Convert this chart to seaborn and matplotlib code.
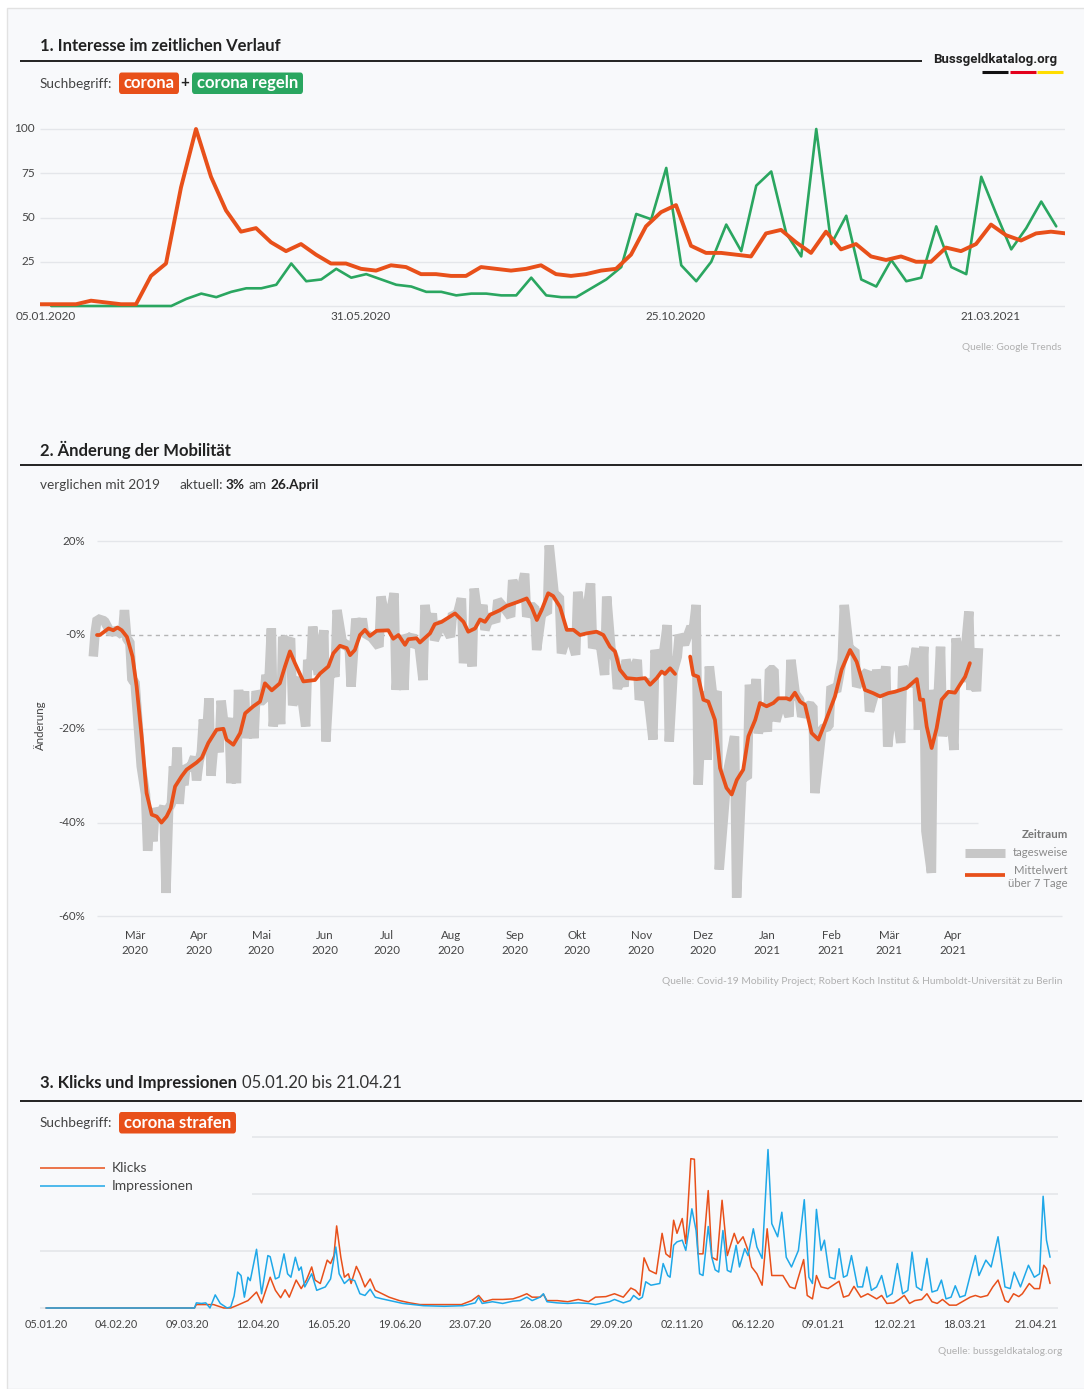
import numpy as np
import pandas as pd
import matplotlib
matplotlib.use("Agg")
import matplotlib.pyplot as plt
import matplotlib.transforms as mtrans
from matplotlib.lines import Line2D
from matplotlib.patches import FancyBboxPatch, Rectangle
import seaborn as sns

# ---------------- Daten ----------------
# 1. Google Trends, Wochenwerte (Woche 0 = 05.01.2020)
trend_corona = [1, 1, 1, 1, 3, 2, 1, 1,
                17, 24, 67, 100, 73, 54, 42, 44, 36, 31, 35, 29, 24, 24, 21, 20,
                23, 22, 18, 18, 17, 17, 22, 21, 20, 21, 23,
                18, 17, 18, 20, 21, 29, 45, 53, 57, 34, 30, 30, 29, 28, 41, 43,
                36, 30, 42, 32, 35, 28, 26, 28, 25, 25, 33, 31, 35, 46, 40, 37,
                41, 42, 41]          # Wochen -1 .. 68
trend_regeln = [0, 0, 0, 0, 0, 0, 0, 0, 0,
                4, 7, 5, 8, 10, 10, 12, 24, 14, 15, 21, 16, 18, 15, 12, 11,
                8, 8, 6, 7, 7, 6, 6, 16, 6, 5, 5, 10, 15, 22, 52, 49, 78, 23,
                14, 25, 46, 31, 68, 76, 41, 28, 100, 35, 51, 15, 11, 26, 14,
                16, 45, 22, 18, 73, 52, 32, 44, 59, 45]   # Wochen 0 .. 67
trend_ticks = ['05.01.2020', '31.05.2020', '25.10.2020', '21.03.2021']
trend_tick_weeks = [0, 21, 42, 63]
trend_yticks = [25, 50, 75, 100]

# 2. Mobilitaet, Tage ab 15.03.2020 (tagesweise + Mittelwert ueber 7 Tage)
mob_daily = [(-20.2, -4.6), (-19.3, 0.5), (-18.3, 3.5), (-14.8, 3), (-11.8, 0.5),
             (-8.9, 1), (-6.1, 0), (-5.1, 5.3), (-3.9, -1), (-2.5, -1.4),
             (-1.5, -9.6), (0, -10), (3, -28),
             (5.1, -34), (6.1, -46), (7.4, -39), (8.7, -44), (9.7, -37), (11.8, -39),
             (14, -36.5), (15, -55), (16.3, -37), (17.6, -36), (18.6, -28), (19.5, -31),
             (20.4, -24), (21.4, -36), (22.5, -30), (23.7, -32), (24.7, -28), (26.7, -28.5),
             (28.8, -26), (29.8, -31), (31, -27), (32.1, -25), (33.1, -18), (34.4, -23),
             (35.8, -13.5), (36.8, -30), (38.7, -20.5), (40.7, -25), (41.7, -14),
             (43.6, -21), (45.5, -17.7), (46.5, -31.6), (47.8, -23.5), (49.1, -31.6),
             (50.1, -11.7), (51.5, -19), (53, -12), (54, -22), (55.8, -16), (57.6, -22),
             (58.6, -12), (60.5, -14), (62.4, -14), (63.4, -8.5), (64.7, -11), (66, 1.4),
             (66.9, -19.5), (68.7, -11), (70.5, -19), (71.5, -0.4), (73.4, -2),
             (75.3, -0.7), (76.3, -15), (79.5, -9), (82.6, -19.5), (83.6, -5.3),
             (85, -7.4), (86, 1.8), (88.7, -8.5), (91.4, 1), (92.4, -22.7), (94.6, -6),
             (96.8, -8.9), (97.8, 5.3), (100.7, -2.5), (103.6, -1.8), (104.6, -11),
             (105.9, -2.8), (106.9, 3.5), (108.5, 0), (110, 3.5), (111, 0.4),
             (114.5, -0.5), (118.1, -2.5), (119.1, 8.2), (122.2, 1), (125.4, 8.9),
             (126.4, -11.7), (128.3, -1), (130.2, -11.7), (131.2, 0), (132.7, -1),
             (134.2, 0), (135.2, -2.5), (137.3, -1.5), (139.4, -9.6), (140.4, 6.4),
             (142.1, 0.5), (143.9, 4.6), (144.9, -1.1), (148.8, 2.8), (152.7, -0.4),
             (153.7, 4.6), (155.8, 4), (158, 7.8), (159, -6), (161.1, 0.7),
             (163.2, -6.7), (164.2, 9.9), (166.3, 3), (168.4, 6.4), (169.4, 1.1),
             (172, 4.3), (174.6, 2.8), (175.6, 7.4), (178.7, 5.8), (181.8, 3.9),
             (182.8, 11.7), (185.7, 7.1), (188.6, 13.1), (189.6, 3.9), (191.5, 6),
             (193.4, 6), (194.4, -3.2), (197, 5.3), (199.6, 4.6), (200.5, 19.1),
             (203, 8.3), (205.4, 8.2), (206.4, -3.9), (209.8, 1), (213.3, -4.2),
             (214.3, 9.2), (217.4, 0.3), (220.5, 11), (221.5, -2.8), (224.4, 0.7),
             (227.3, -8.5), (228.3, 8.2), (230.4, -3), (232.5, -5.3), (233.5, -11.5),
             (235.1, -8), (236.7, -11), (237.7, -5.3), (240.4, -9.3), (243.1, -5.3),
             (244.1, -13.8), (247.4, -9.3), (250.7, -22.3), (251.7, -3.2), (254.6, -8),
             (257.6, 2.1), (258.6, -22.7), (260.5, -7.8), (262.5, -4.6), (263.4, 0),
             (266, -2), (269.1, 1.8), (270.1, 0.7), (271.6, 6.4), (272.6, -31.9),
             (274.8, -12), (277, -26.6), (278, -6.7), (279.9, -14), (281.8, -12),
             (282.8, -50), (286.5, -30), (290.2, -21.6), (291.2, -56), (293.8, -30),
             (296.4, -30.5), (297.4, -10.6), (299, -16), (300.7, -9.4), (301.7, -21),
             (303.9, -14.5), (306.1, -20.6), (307.1, -7.4), (309.3, -7.4), (310.2, -18.4),
             (313.4, -13.5), (316.6, -17.4), (317.5, -5.3), (319.6, -12.5), (321.7, -13.8),
             (322.7, -17.4), (325.4, -15), (328.1, -15.2), (329.1, -33.7), (332.5, -20),
             (335.9, -19.5), (336.9, -11), (339.6, -12), (342.3, -5.3), (343.3, 6.4),
             (345.8, -3.5), (348.4, -3.2), (349.3, -11), (351.9, -9), (354.5, -7.8),
             (355.5, -16.3), (358, -12.4), (359, -7.4), (361.2, -13), (363.4, -6.7),
             (364.3, -23.8), (367.4, -12), (370.6, -23), (371.6, -6.7), (374.9, -11),
             (378.2, -2.8), (379.2, -20.2), (381.8, -2.5), (382.8, -41.8), (385.5, -50.7),
             (386.5, -11.7), (388.2, -18), (389.9, -2.5), (390.9, -21.6), (393.7, -12.1),
             (396.4, -24.5), (397.4, -0.7), (400.5, -10), (403.6, 5), (404.6, -11.7),
             (406, -8), (407.3, -12), (408.3, -2.8)]
mob_avg = [(-18.4, 0), (-17, 0), (-12.8, 1.4), (-10.5, 1), (-8.5, 1.6), (-6.4, 1),
           (-3.9, -0.4), (-1.2, -4.6), (0.8, -11), (3.3, -22), (5.6, -33.7),
           (8.1, -38.3), (10.5, -38.7), (12.8, -40), (15.3, -38.7), (17.3, -36.9),
           (19.4, -32.3), (22.6, -30.1), (25, -28.7), (29.8, -27.2), (32.3, -26.2),
           (35.5, -23), (39.5, -20.2), (42.8, -20), (44.3, -22.3), (47.6, -23.4),
           (50.9, -20.9), (53.3, -16.7), (57.3, -15.2), (60.5, -14.2), (62.9, -10.3),
           (66.2, -11.8), (70.1, -10.3), (72.6, -6.7), (75, -3.5), (77.4, -6),
           (81.5, -9.9), (87.1, -9.6), (89.6, -8.2), (93.6, -6.7), (96, -3.9),
           (99.2, -2.3), (102.5, -2.8), (104.1, -4.3), (106.4, -3.2), (108.9, 0),
           (111.3, 1.1), (113.7, -0.2), (117, 0.9), (122.6, 1), (125, -0.8),
           (127.5, 0), (130.7, -2.1), (132.3, -0.9), (136.3, -0.7), (137.9, -1.6),
           (142.8, 0.35), (145.1, 2.3), (148.4, 2.8), (154.9, 4.6), (159, 2.8),
           (161.3, 0.7), (164.6, 1.4), (167, 3.3), (169.4, 2.8), (171.8, 4.3),
           (176.7, 5.3), (179.9, 6.2), (185.6, 7.1), (189.6, 7.8), (192, 5.9),
           (194.5, 3.2), (196.8, 5.3), (200, 8.9), (202.4, 8.3), (205.7, 6),
           (209, 1.1), (212.2, 1.1), (215.4, 0), (218.6, 0.35), (223.4, 0.7),
           (226.7, 0), (229.9, -2.5), (232.3, -3.5), (234.7, -7.4), (238, -9.2),
           (242.8, -9.4), (246.9, -9.2), (249.3, -10.6), (252.5, -9.2), (254.9, -7.8),
           (256.5, -8.3), (259, -7.1), (261.4, -8.3), (265, None),
           (268.7, -4.6), (270.2, -8.5), (272.6, -8.9), (275.1, -13.8), (277.5, -14.2),
           (280.7, -18.1), (283.2, -28.4), (286.3, -32.6), (288.8, -34), (291.3, -30.9),
           (294.4, -28.7), (296.9, -21.6), (300.2, -18.1), (302.5, -14.5), (305.7, -15.2),
           (309, -14.5), (311.4, -13.5), (315.4, -13.5), (317, -13.8), (319.4, -12.3),
           (321.9, -14.2), (324.3, -14.9), (327.5, -20.9), (330.8, -22.3), (333.9, -18.8),
           (338.8, -13.1), (342, -7.4), (346.1, -3.2), (349.3, -5.7), (353.3, -11.7),
           (357.3, -12.4), (360.6, -13.1), (364.6, -12.4), (367.8, -12.1), (373.5, -11.3),
           (378.4, -9.4), (380, -13.8), (381.5, -13.8), (383.2, -19.5), (385.6, -24.1),
           (388, -19.9), (390.4, -13.8), (393.7, -12.1), (396.9, -12.3), (399.3, -10.6),
           (401.8, -8.9), (404.1, -6)]
mob_months = ['Mär\n2020', 'Apr\n2020', 'Mai\n2020', 'Jun\n2020', 'Jul\n2020',
              'Aug\n2020', 'Sep\n2020', 'Okt\n2020', 'Nov\n2020', 'Dez\n2020',
              'Jan\n2021', 'Feb\n2021', 'Mär\n2021', 'Apr\n2021']
mob_yticks = [20, 0, -20, -40, -60]
mob_ylabels = ['20%', '-0%', '-20%', '-40%', '-60%']

# 3. Klicks und Impressionen, Tage ab 05.01.2020
klicks = [(0, 0), (70.8, 0), (71.7, 0.06), (76.6, 0.06), (79.9, 0.06), (83.1, 0.02),
          (84.8, 0), (88.1, 0), (91.4, 0.05), (96.3, 0.13), (100.4, 0.28), (102.8, 0.09),
          (106.9, 0.54), (109.4, 0.31), (111.9, 0.18), (114.0, 0.32), (116.0, 0.19),
          (119.3, 0.49), (121.7, 0.34), (124.2, 0.49), (126.7, 0.72), (128.3, 0.49),
          (130.8, 0.43), (134.1, 0.84), (135.7, 0.78), (137.3, 0.92), (138.6, 1.44),
          (140.6, 0.89), (142.3, 0.54), (144.2, 0.6), (145.5, 0.43), (148.0, 0.73),
          (149.7, 0.6), (152.1, 0.37), (154.6, 0.51), (157.0, 0.31), (160.3, 0.25),
          (163.6, 0.19), (168.5, 0.13), (173.5, 0.09), (178.4, 0.06), (186.6, 0.06),
          (198.1, 0.06), (203.0, 0.13), (206.3, 0.22), (208.8, 0.11), (212.9, 0.15),
          (217.8, 0.15), (222.7, 0.16), (226.0, 0.2), (229.3, 0.25), (231.8, 0.19),
          (235.6, 0.19), (237.2, 0.24), (238.9, 0.13), (243.8, 0.13), (248.8, 0.11),
          (253.8, 0.15), (258.7, 0.11), (262.0, 0.19), (267.0, 0.2), (271.1, 0.25),
          (275.3, 0.19), (278.9, 0.35), (281.1, 0.31), (283.2, 0.22), (285.2, 0.88),
          (287.7, 0.66), (291.0, 0.6), (293.8, 1.31), (295.6, 0.95), (297.6, 0.89),
          (299.3, 1.54), (300.9, 1.31), (303.4, 1.57), (305.1, 1.13), (307.5, 2.62),
          (309.2, 2.61), (310.9, 0.95), (313.3, 0.95), (315.8, 2.06), (317.5, 0.89),
          (320.0, 0.84), (322.4, 1.89), (324.9, 0.92), (328.2, 1.31), (329.9, 1.13),
          (332.4, 1.25), (334.8, 1.01), (336.5, 0.72), (339.0, 0.6), (341.5, 0.4),
          (343.9, 1.39), (346.1, 0.57), (351.4, 0.57), (354.7, 0.37), (357.2, 0.34),
          (361.3, 0.85), (363.0, 0.22), (365.5, 0.16), (367.4, 0.57), (369.6, 0.37),
          (372.9, 0.34), (378.2, 0.47), (380.3, 0.19), (382.8, 0.22), (385.3, 0.38),
          (388.6, 0.19), (391.9, 0.25), (396.1, 0.16), (398.5, 0.22), (401.0, 0.08),
          (404.3, 0.09), (406.8, 0.15), (409.3, 0.22), (411.8, 0.08), (414.3, 0.13),
          (417.6, 0.15), (420.1, 0.25), (422.5, 0.11), (425.0, 0.08), (427.5, 0.15),
          (430.8, 0.05), (434.1, 0.05), (437.4, 0.12), (440.7, 0.19), (443.2, 0.22),
          (445.7, 0.19), (449.0, 0.22), (451.5, 0.37), (454.0, 0.49), (457.3, 0.13),
          (458.9, 0.1), (461.4, 0.25), (463.9, 0.2), (465.6, 0.25), (468.9, 0.43),
          (471.3, 0.34), (473.8, 0.34), (475.8, 0.75), (477.1, 0.69), (478.8, 0.43)]
impressionen = [(0, 0), (70.8, 0), (71.7, 0.09), (74.1, 0.08), (76.2, 0.09), (78.2, 0),
                (80.7, 0.23), (83.1, 0.08), (86.4, 0), (88.1, 0.02), (89.7, 0.21),
                (91.4, 0.63), (93.0, 0.57), (94.6, 0.19), (96.3, 0.54), (97.4, 0.48),
                (100.4, 1.03), (102.8, 0.25), (105.8, 0.92), (106.9, 0.9), (109.4, 0.51),
                (111.1, 0.54), (113.5, 0.95), (115.2, 0.6), (116.8, 0.54), (118.9, 0.89),
                (120.6, 0.66), (121.7, 0.72), (123.4, 0.37), (126.7, 0.6), (129.1, 0.31),
                (133.2, 0.37), (135.7, 0.51), (138.2, 1.07), (139.8, 0.6), (142.3, 0.43),
                (144.7, 0.51), (147.2, 0.48), (149.7, 0.25), (152.1, 0.22), (154.6, 0.33),
                (157.0, 0.19), (160.3, 0.16), (165.3, 0.12), (170.2, 0.08), (175.1, 0.06),
                (180.0, 0.04), (189.9, 0.03), (198.9, 0.04), (204.7, 0.09), (206.3, 0.19),
                (208.0, 0.08), (212.9, 0.11), (217.8, 0.08), (222.7, 0.12), (226.0, 0.13),
                (229.3, 0.19), (231.8, 0.13), (235.6, 0.19), (237.2, 0.25), (238.9, 0.11),
                (243.8, 0.09), (248.8, 0.08), (253.8, 0.09), (258.7, 0.08), (262.0, 0.06),
                (268.7, 0.11), (271.1, 0.15), (275.3, 0.09), (278.6, 0.13), (280.2, 0.22),
                (282.7, 0.15), (284.4, 0.19), (286.0, 0.46), (288.5, 0.4), (292.7, 0.43),
                (294.3, 0.78), (296.5, 0.57), (297.6, 0.54), (299.3, 1.1), (300.9, 1.16),
                (303.4, 1.19), (305.1, 1.01), (308.0, 1.74), (310.0, 1.36), (311.7, 0.6),
                (313.3, 0.57), (315.8, 1.43), (317.5, 0.89), (319.1, 0.67), (320.8, 0.63),
                (322.8, 1.36), (324.9, 0.66), (326.6, 0.63), (329.1, 1.1), (330.7, 0.72),
                (333.2, 1.04), (334.8, 0.92), (337.3, 1.39), (339.0, 1.07), (341.5, 0.87),
                (344.3, 2.78), (346.1, 1.48), (348.9, 1.25), (350.9, 1.68), (353.0, 0.89),
                (355.5, 0.72), (358.8, 1.01), (361.6, 1.9), (363.8, 0.54), (365.5, 0.43),
                (367.4, 1.73), (369.6, 1.01), (371.2, 1.19), (373.7, 0.54), (376.2, 0.51),
                (378.2, 1.04), (380.3, 0.54), (382.0, 0.57), (384.1, 0.92), (387.0, 0.37),
                (389.4, 0.37), (391.4, 0.72), (393.6, 0.31), (396.1, 0.37), (398.5, 0.57),
                (401.0, 0.19), (403.5, 0.25), (406.0, 0.78), (408.5, 0.25), (411.0, 0.31),
                (413.0, 0.98), (415.1, 0.37), (417.6, 0.31), (420.1, 0.87), (422.5, 0.28),
                (425.0, 0.31), (427.0, 0.49), (429.2, 0.16), (431.6, 0.19), (433.6, 0.39),
                (435.8, 0.19), (438.3, 0.22), (440.7, 0.57), (443.2, 0.92), (444.9, 0.57),
                (448.2, 0.84), (450.7, 0.72), (454.0, 1.25), (457.3, 0.37), (459.8, 0.34),
                (461.7, 0.63), (464.7, 0.37), (468.5, 0.75), (471.3, 0.54), (473.8, 0.6),
                (475.5, 1.96), (477.1, 1.19), (478.8, 0.89)]
klick_ticks = ['05.01.20', '04.02.20', '09.03.20', '12.04.20', '16.05.20', '19.06.20',
               '23.07.20', '26.08.20', '29.09.20', '02.11.20', '06.12.20', '09.01.21',
               '12.02.21', '18.03.21', '21.04.21']

# ---------------- Stil ----------------
sns.set_theme(style="white")
plt.rcParams['font.family'] = ['Lato', 'DejaVu Sans']

W, H = 1084, 1389
BG = '#f8f9fb'
ORANGE = '#e8501a'
GREEN = '#2aa660'
BLUE = '#1fa8e8'
DGRAY = '#c7c7c7'
GRID = '#e4e6ea'
DARK = '#222222'
TXT = '#444444'
SRC = '#b0b0b0'

fig = plt.figure(figsize=(W / 100, H / 100), dpi=100, facecolor='white')
fig.add_artist(Rectangle((7 / W, 0), 1, 1 - 8 / H, transform=fig.transFigure,
                         fc=BG, ec='#e2e2e2', lw=1, zorder=-10))


def fy(py):
    return 1 - py / H


def txt(px, py, s, size=8.5, color=TXT, weight='normal', ha='left', va='center', **kw):
    return fig.text(px / W, fy(py), s, fontsize=size, color=color, fontweight=weight,
                    ha=ha, va=va, **kw)


def rich(px, py, parts):
    r = fig.canvas.get_renderer()
    x = px
    for s, weight, size, color, gap in parts:
        t = txt(x, py, s, size, color, weight)
        x += t.get_window_extent(r).width + gap


def rule(x0, x1, py, lw=1.4, color=DARK):
    fig.add_artist(Line2D([x0 / W, x1 / W], [fy(py), fy(py)], color=color, lw=lw,
                          transform=fig.transFigure, solid_capstyle='butt'))


def badge(x0, x1, y0, y1, label, color, size=12):
    fig.add_artist(FancyBboxPatch((x0 / W, fy(y1)), (x1 - x0) / W, (y1 - y0) / H,
                                  boxstyle='round,pad=0,rounding_size=0.0025',
                                  transform=fig.transFigure, fc=color, ec='none'))
    txt((x0 + x1) / 2, (y0 + y1) / 2, label, size, 'white', 'bold', ha='center')


def add_ax(xlim, ylim, px_of_x, py_of_y):
    x0, x1 = px_of_x(xlim[0]), px_of_x(xlim[1])
    ytop, ybot = py_of_y(ylim[1]), py_of_y(ylim[0])
    ax = fig.add_axes([x0 / W, fy(ybot), (x1 - x0) / W, (ybot - ytop) / H])
    ax.set_xlim(*xlim)
    ax.set_ylim(*ylim)
    ax.set_facecolor('none')
    for s in ax.spines.values():
        s.set_visible(False)
    return ax


def clean(ax, xlim, ylim):
    ax.set_xlim(*xlim)
    ax.set_ylim(*ylim)
    ax.set_xticks([])
    ax.set_yticks([])
    ax.set_xlabel('')
    ax.set_ylabel('')


# ================= 1. Interesse im zeitlichen Verlauf =================
txt(40, 46, '1. Interesse im zeitlichen Verlauf', 12, DARK, 'bold')
rule(20, 922, 60.5)
txt(1057, 60, 'Bussgeldkatalog.org', 9.5, DARK, 'bold', ha='right',
    family=['Roboto', 'DejaVu Sans'])
for x0, x1, c in [(982, 1008, '#111111'), (1009.5, 1035.5, '#e3001b'), (1037, 1063, '#ffdd00')]:
    rule(x0, x1, 71.5, lw=2.2, color=c)
txt(40, 84, 'Suchbegriff:', 9.8, TXT)
badge(119, 179, 72.5, 94, 'corona', ORANGE)
txt(185, 83, '+', 11, DARK, 'bold', ha='center')
badge(192, 303, 72.5, 94, 'corona regeln', GREEN)

lim1 = ((-0.4, 67.9), (-3, 103))
ax1 = add_ax(*lim1, lambda w: 46 + 15 * w, lambda v: 306 - 1.77 * v)
ax1.hlines([0] + trend_yticks, -0.4, 67.9, color=GRID, lw=1)
weeks_corona = np.arange(-1, -1 + len(trend_corona))
weeks_regeln = np.arange(len(trend_regeln)) + 0.35
sns.lineplot(x=weeks_regeln, y=trend_regeln, color=GREEN, lw=1.9, ax=ax1, legend=False)
sns.lineplot(x=weeks_corona, y=trend_corona, color=ORANGE, lw=2.8, ax=ax1, legend=False,
             solid_joinstyle='round')
clean(ax1, *lim1)
tx1 = mtrans.blended_transform_factory(ax1.transData, fig.transFigure)
for w, lab in zip(trend_tick_weeks, trend_ticks):
    ax1.text(w, fy(316), lab, transform=tx1, ha='center', va='center', fontsize=8.5, color=TXT)
ty1 = mtrans.blended_transform_factory(fig.transFigure, ax1.transData)
for v in trend_yticks:
    ax1.text(35 / W, v, str(v), transform=ty1, ha='right', va='center', fontsize=8.5, color=TXT)
txt(1062, 348, 'Quelle: Google Trends', 7.3, SRC, ha='right')

# ================= 2. Aenderung der Mobilitaet =================
txt(40, 450, '2. Änderung der Mobilität', 12, DARK, 'bold')
rule(20, 1082, 464.5)
rich(40, 485, [('verglichen mit 2019', 'normal', 9.8, TXT, 19),
               ('aktuell:', 'normal', 9.8, TXT, 3.5),
               ('3%', 'bold', 9.8, DARK, 3.5),
               ('am', 'normal', 9.8, TXT, 3.5),
               ('26.April', 'bold', 9.8, DARK, 0)])

lim2 = ((-23, 453), (-62, 22))
ax2 = add_ax(*lim2, lambda d: 135 + 2.066 * d, lambda v: 635 - 4.69 * v)
for v in [20, -20, -60]:
    ax2.hlines(v, -18.4, 448.7, color=GRID, lw=1)
ax2.hlines(-40, -18.4, 408, color=GRID, lw=1)
ax2.hlines(0, -18.4, 448.7, color='#b5b5b5', lw=1, linestyles=(0, (3, 3)))

daily = pd.DataFrame(mob_daily, columns=['tag', 'wert'])
sns.lineplot(data=daily, x='tag', y='wert', color=DGRAY, lw=6.8, ax=ax2, legend=False,
             solid_joinstyle='bevel', solid_capstyle='butt', sort=False)
avg = pd.DataFrame(mob_avg, columns=['tag', 'wert'])
avg['wert'] = avg['wert'].astype(float)
avg['abschnitt'] = avg['wert'].isna().cumsum()
avg = avg.dropna()
sns.lineplot(data=avg, x='tag', y='wert', units='abschnitt', estimator=None, color=ORANGE,
             lw=2.7, ax=ax2, legend=False, solid_joinstyle='round', solid_capstyle='round')
clean(ax2, *lim2)

origin = pd.Timestamp('2020-03-15')
month_pos = [(origin + pd.DateOffset(months=i) - origin).days for i in range(len(mob_months))]
tx2 = mtrans.blended_transform_factory(ax2.transData, fig.transFigure)
for d, lab in zip(month_pos, mob_months):
    ax2.text(d, fy(943), lab, transform=tx2, ha='center', va='center', fontsize=8.3,
             color=TXT, linespacing=1.35)
ty2 = mtrans.blended_transform_factory(fig.transFigure, ax2.transData)
for v, lab in zip(mob_yticks, mob_ylabels):
    ax2.text(85 / W, v, lab, transform=ty2, ha='right', va='center', fontsize=8.3, color=TXT)
txt(40, 725, 'Änderung', 8.3, TXT, rotation=90, ha='center')

# Legende
txt(1068, 835, 'Zeitraum', 8.2, '#777777', 'bold', ha='right')
rule(965, 1005, 853, lw=6.5, color=DGRAY)
txt(1068, 853, 'tagesweise', 8.2, '#8a8a8a', ha='right')
rule(965, 1005, 874.5, lw=2.7, color=ORANGE)
txt(1068, 877, 'Mittelwert\nüber 7 Tage', 8.2, '#8a8a8a', ha='right', linespacing=1.2,
    multialignment='right')
txt(1062, 981, 'Quelle: Covid-19 Mobility Project; Robert Koch Institut & '
    'Humboldt-Universität zu Berlin', 7.35, SRC, ha='right')

# ================= 3. Klicks und Impressionen =================
rich(40, 1083, [('3. Klicks und Impressionen', 'bold', 12, DARK, 4.5),
                ('05.01.20 bis 21.04.21', 'normal', 12, '#333333', 0)])
rule(20, 1082, 1100.5)
txt(40, 1123, 'Suchbegriff:', 9.8, TXT)
badge(119, 236, 1112, 1133.5, 'corona strafen', ORANGE)

lim3 = ((-3, 484), (-0.12, 3.1))
ax3 = add_ax(*lim3, lambda d: 46 + 2.097 * d, lambda v: 1308 - 57 * v)
ax3.hlines([0, 1], -2.9, 482.6, color=GRID, lw=1.2)
ax3.hlines([2, 3], 98.2, 482.6, color=GRID, lw=1.2)
kl = pd.DataFrame(klicks, columns=['tag', 'wert'])
im = pd.DataFrame(impressionen, columns=['tag', 'wert'])
sns.lineplot(data=kl, x='tag', y='wert', color=ORANGE, lw=1.1, ax=ax3, legend=False)
sns.lineplot(data=im, x='tag', y='wert', color=BLUE, lw=1.1, ax=ax3, legend=False)
clean(ax3, *lim3)
tick_days = np.linspace(0, 472, len(klick_ticks))
tx3 = mtrans.blended_transform_factory(ax3.transData, fig.transFigure)
for d, lab in zip(tick_days, klick_ticks):
    ax3.text(d, fy(1324), lab, transform=tx3, ha='center', va='center', fontsize=7.8,
             color=TXT)

rule(40, 105, 1168, lw=1.1, color=ORANGE)
txt(112, 1168, 'Klicks', 10, TXT)
rule(40, 105, 1186, lw=1.1, color=BLUE)
txt(112, 1186, 'Impressionen', 10, TXT)
txt(1062, 1352, 'Quelle: bussgeldkatalog.org', 7.35, SRC, ha='right')

fig.savefig('out.png', dpi=100, facecolor=fig.get_facecolor())
